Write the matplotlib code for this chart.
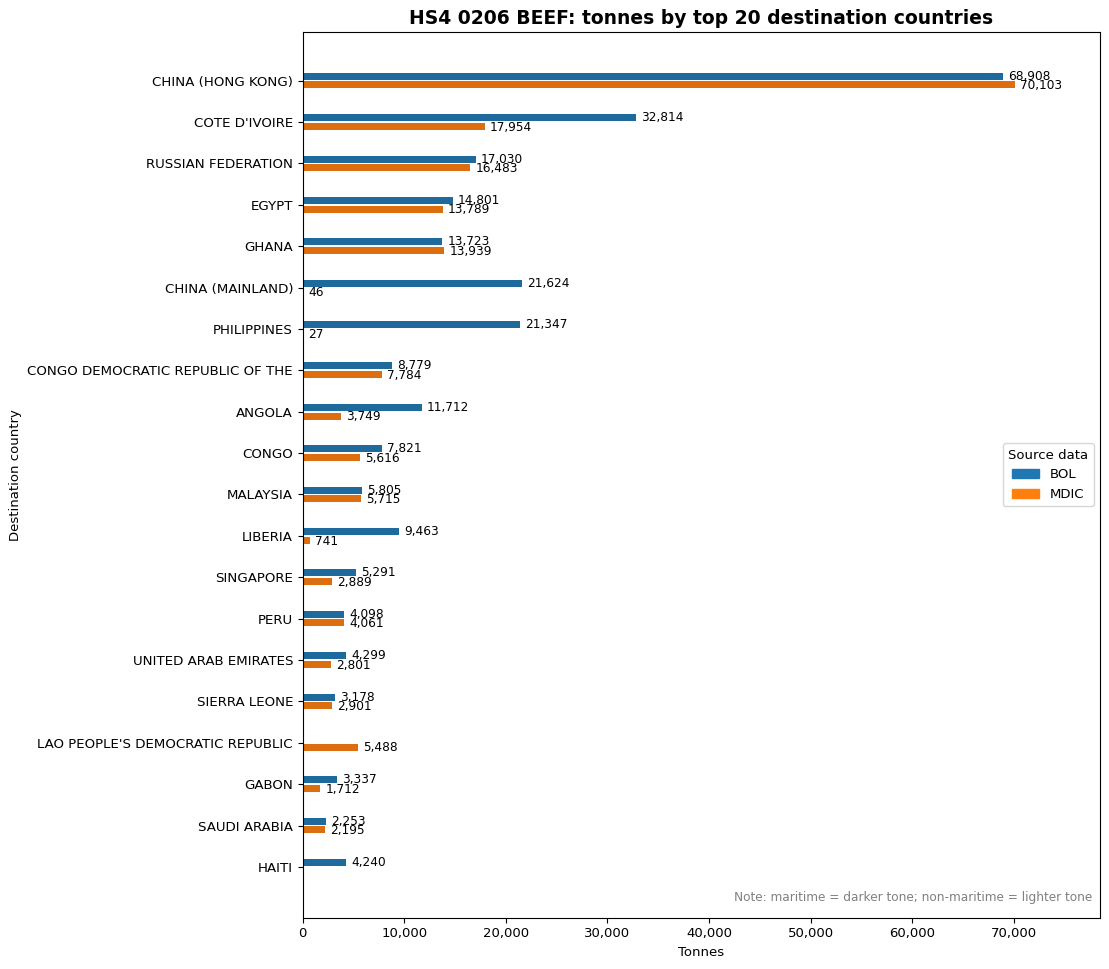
import numpy as np
import matplotlib
matplotlib.use("Agg")
import matplotlib.pyplot as plt
from matplotlib.patches import Patch

countries = ["CHINA (HONG KONG)", "COTE D'IVOIRE", "RUSSIAN FEDERATION", "EGYPT", "GHANA",
             "CHINA (MAINLAND)", "PHILIPPINES", "CONGO DEMOCRATIC REPUBLIC OF THE", "ANGOLA",
             "CONGO", "MALAYSIA", "LIBERIA", "SINGAPORE", "PERU", "UNITED ARAB EMIRATES",
             "SIERRA LEONE", "LAO PEOPLE'S DEMOCRATIC REPUBLIC", "GABON", "SAUDI ARABIA", "HAITI"]
bol = [68908, 32814, 17030, 14801, 13723, 21624, 21347, 8779, 11712, 7821,
       5805, 9463, 5291, 4098, 4299, 3178, 0, 3337, 2253, 4240]
mdic = [70103, 17954, 16483, 13789, 13939, 46, 27, 7784, 3749, 5616,
        5715, 741, 2889, 4061, 2801, 2901, 5488, 1712, 2195, 0]

bol_dark = "#1f6a9c"
mdic_dark = "#dc6e10"

fig, ax = plt.subplots(figsize=(11.09, 9.69), dpi=100)
fig.subplots_adjust(left=0.273, right=0.992, top=0.967, bottom=0.053)

y = np.arange(len(countries))
h = 0.17
off = 0.105
ax.barh(y - off, bol, height=h, color=bol_dark)
ax.barh(y + off, mdic, height=h, color=mdic_dark)

for i in range(len(countries)):
    if bol[i] > 0:
        ax.text(bol[i] + 500, y[i] - off, f"{bol[i]:,}", va="center", ha="left", fontsize=8.7)
    if mdic[i] > 0:
        ax.text(mdic[i] + 500, y[i] + off + 0.02, f"{mdic[i]:,}", va="center", ha="left", fontsize=8.7)

ax.set_yticks(y)
ax.set_yticklabels(countries, fontsize=9.6)
ax.tick_params(axis="x", labelsize=9.5)
ax.set_ylim(len(countries) - 1 + 1.225, -1.175)
ax.set_xlim(0, max(max(bol), max(mdic)) * 1.12)
ax.xaxis.set_major_formatter(matplotlib.ticker.FuncFormatter(lambda v, p: f"{v:,.0f}"))
ax.set_xlabel("Tonnes", fontsize=9.5)
ax.set_ylabel("Destination country", fontsize=9.5)
ax.set_title("HS4 0206 BEEF: tonnes by top 20 destination countries", fontsize=13.5, fontweight="bold")

handles = [Patch(color="#1f77b4", label="BOL"), Patch(color="#ff7f0e", label="MDIC")]
ax.legend(handles=handles, title="Source data", loc="center right", fontsize=9.5, title_fontsize=9.5)

ax.text(0.99, 0.015, "Note: maritime = darker tone; non-maritime = lighter tone",
        transform=ax.transAxes, ha="right", va="bottom", fontsize=8.7, color="grey")

fig.savefig("out.png", dpi=100)
